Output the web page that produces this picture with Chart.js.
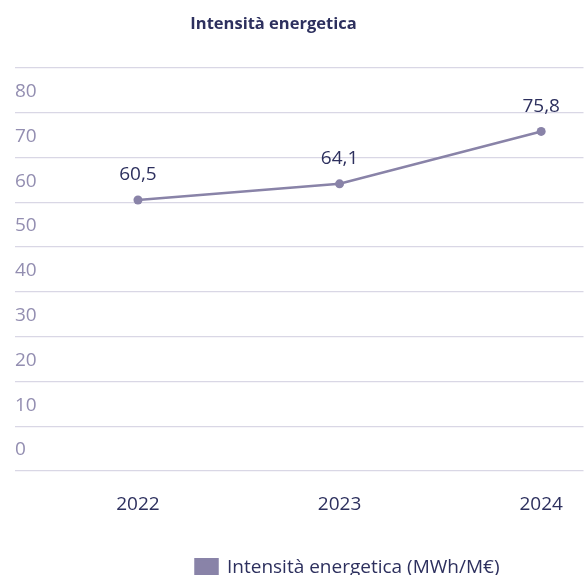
<!DOCTYPE html>
<html>
<head>
<meta charset="utf-8">
<script src="https://cdn.jsdelivr.net/npm/chart.js@4.4.1/dist/chart.umd.min.js"></script>
<style>
  body { margin: 0; background: #fff; }
  #wrap { width: 588px; height: 575px; }
</style>
</head>
<body>
<div id="wrap"><canvas id="ch1"></canvas></div>
<script>
// data
var years = [2022, 2023, 2024];
var intensity = [60.5, 64.1, 75.8];
var yTicks = [0, 10, 20, 30, 40, 50, 60, 70, 80, 90];
var seriesLabel = 'Intensità energetica (MWh/M€)';
var chartTitle = 'Intensità energetica';

var navy = '#2d305e';
var lineColor = '#8983a8';
var gridColor = '#d9d7e5';
var yLabelColor = '#938eb1';
var fontFamily = "'Open Sans', sans-serif";

// value labels above the points
var valueLabels = {
  id: 'valueLabels',
  afterDatasetsDraw: function(chart) {
    var ctx = chart.ctx;
    var meta = chart.getDatasetMeta(0);
    ctx.save();
    ctx.font = '19px ' + fontFamily;
    ctx.fillStyle = navy;
    ctx.textAlign = 'center';
    ctx.textBaseline = 'middle';
    meta.data.forEach(function(pt, i) {
      var txt = intensity[i].toFixed(1).replace('.', ',');
      ctx.fillText(txt, pt.x, pt.y - 25);
    });
    ctx.restore();
  }
};

// nudge title and legend sideways like in the original layout
var shiftBoxes = {
  id: 'shiftBoxes',
  afterLayout: function(chart) {
    if (chart.titleBlock) { chart.titleBlock.left -= 28; chart.titleBlock.right -= 28; }
    if (chart.legend) { chart.legend.left += 46; chart.legend.right += 46; }
  }
};

var ctx = document.getElementById('ch1').getContext('2d');
var myChart = new Chart(ctx, {
  type: 'line',
  data: {
    datasets: [{
      label: seriesLabel,
      data: years.map(function(y, i) { return { x: y, y: intensity[i] }; }),
      borderColor: lineColor,
      backgroundColor: lineColor,
      borderWidth: 2.5,
      pointRadius: 4.5,
      pointBackgroundColor: lineColor,
      pointBorderWidth: 0,
      tension: 0
    }]
  },
  options: {
    responsive: true,
    maintainAspectRatio: false,
    animation: false,
    layout: { padding: { left: 15, right: 0, top: 0, bottom: -12 } },
    plugins: {
      title: {
        display: true,
        text: chartTitle,
        color: navy,
        font: { family: fontFamily, size: 16.5, weight: 'bold' },
        padding: { top: 14, bottom: 34 }
      },
      legend: {
        position: 'bottom',
        labels: {
          color: navy,
          font: { family: fontFamily, size: 19 },
          boxWidth: 22,
          boxHeight: 17,
          padding: 0
        }
      },
      tooltip: { enabled: false }
    },
    scales: {
      x: {
        type: 'linear',
        min: 2021.39,
        max: 2024.21,
        afterBuildTicks: function(scale) {
          scale.ticks = years.map(function(v) { return { value: v }; });
        },
        afterFit: function(scale) { scale.height = 87; },
        grid: { display: false, drawTicks: false },
        border: { display: false },
        ticks: {
          color: navy,
          padding: 22,
          font: { family: fontFamily, size: 19 },
          callback: function(v) { return String(v); }
        }
      },
      y: {
        min: 0,
        max: 90,
        afterBuildTicks: function(scale) {
          scale.ticks = yTicks.map(function(v) { return { value: v }; });
        },
        grid: { color: gridColor, lineWidth: 1.2, drawTicks: false },
        border: { display: false },
        ticks: {
          mirror: true,
          padding: 0,
          labelOffset: -21,
          color: yLabelColor,
          font: { family: fontFamily, size: 19 },
          callback: function(v) { return v === 90 ? '' : v; }
        }
      }
    }
  },
  plugins: [valueLabels, shiftBoxes]
});
</script>
</body>
</html>
